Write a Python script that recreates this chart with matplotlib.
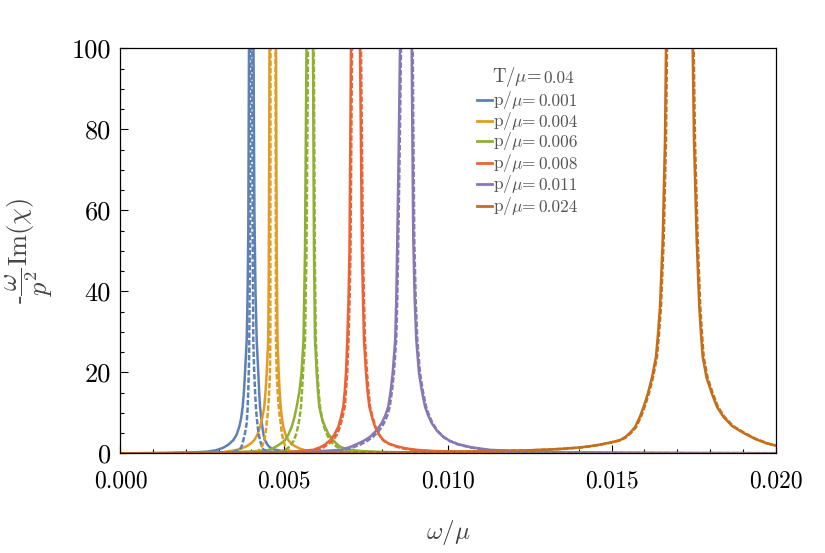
import matplotlib
matplotlib.use("Agg")
import matplotlib.pyplot as plt
from matplotlib.ticker import FixedLocator, MultipleLocator

# ---------------- data ----------------
T_label = "0.04"
p_labels = ["0.001", "0.004", "0.006", "0.008", "0.011", "0.024"]
colors = ["#5E81B5", "#E19C24", "#8FB032", "#EB6235", "#8778B3", "#C56E1A"]

# p/mu = 0.001  (solid / dashed)
w_s1 = [0.0, 1.5114e-3, 2.2748e-3, 2.6320e-3, 2.9160e-3, 3.1297e-3, 3.2977e-3, 3.4442e-3, 3.5419e-3, 3.6274e-3,
        3.6855e-3, 3.7313e-3, 3.7710e-3, 3.8015e-3, 3.8534e-3, 3.8778e-3, 3.9022e-3, 3.9236e-3, 3.9939e-3,
        4.0610e-3, 4.0885e-3, 4.1221e-3, 4.1587e-3, 4.2076e-3, 4.2351e-3, 4.2595e-3, 4.2961e-3, 4.3297e-3,
        4.3664e-3, 4.4122e-3, 4.4824e-3, 4.5648e-3, 4.6870e-3, 4.8702e-3, 5.2366e-3, 5.7862e-3, 7.0076e-3,
        8.5343e-3, 20.0e-3]
v_s1 = [0.05, 0.15, 0.3, 0.45, 0.8, 1.4, 2.2, 3.3, 4.6, 6.6,
        8.8, 11.6, 15.5, 19.9, 28, 38, 55, 100, 1000,
        100, 60, 40, 28, 19.9, 15, 11.6, 8.8, 6.6,
        4.7, 3.3, 2.2, 1.5, 1.0, 0.7, 0.45, 0.3, 0.17,
        0.1, 0.02]
w_d1 = [0.0, 2.4275e-3, 3.0381e-3, 3.3435e-3, 3.5267e-3, 3.6488e-3, 3.7099e-3, 3.7496e-3, 3.8015e-3, 3.8534e-3,
        3.8809e-3, 3.9022e-3, 3.9206e-3, 3.9328e-3, 3.9480e-3, 3.9633e-3, 3.9939e-3,
        4.0244e-3, 4.0397e-3, 4.0549e-3, 4.0793e-3, 4.1068e-3, 4.1374e-3, 4.1771e-3, 4.2137e-3, 4.2595e-3,
        4.3053e-3, 4.3603e-3, 4.4732e-3, 4.7175e-3, 5.1755e-3, 5.7862e-3, 20.0e-3]
v_d1 = [0.0, 0.05, 0.15, 0.3, 0.6, 1.0, 2.0, 3.3, 5.0, 7.5,
        11, 15.7, 21, 28, 45, 100, 1000,
        100, 45, 28, 21, 15.7, 11, 7.5, 5.0, 3.3,
        2.0, 1.0, 0.6, 0.3, 0.15, 0.05, 0.0]

# p/mu = 0.004
w_s2 = [0.0, 2.4275e-3, 3.0381e-3, 3.4351e-3, 3.6488e-3, 3.8534e-3, 3.9847e-3, 4.0854e-3, 4.1832e-3, 4.2595e-3,
        4.3297e-3, 4.3908e-3, 4.4305e-3, 4.4641e-3, 4.5099e-3, 4.5282e-3, 4.5496e-3, 4.6473e-3,
        4.7480e-3, 4.7694e-3, 4.7938e-3, 4.8305e-3, 4.8580e-3, 4.8915e-3, 4.9282e-3, 4.9709e-3, 5.0381e-3,
        5.1236e-3, 5.2213e-3, 5.3282e-3, 5.4809e-3, 5.6854e-3, 6.0915e-3, 6.7022e-3, 7.9236e-3, 10.0610e-3,
        20.0e-3]
v_s2 = [0.0, 0.1, 0.25, 0.7, 1.1, 1.8, 2.5, 3.3, 4.7, 6.6,
        8.8, 11.6, 15.5, 19.9, 28, 45, 100, 1000,
        100, 50, 28, 19.9, 15.5, 11.6, 8.8, 6.6, 4.7,
        3.3, 2.4, 1.8, 1.2, 0.7, 0.45, 0.3, 0.18, 0.1,
        0.03]
w_d2 = [0.0, 3.3435e-3, 3.8015e-3, 4.1068e-3, 4.1984e-3, 4.2595e-3, 4.3358e-3, 4.3908e-3, 4.4305e-3, 4.4641e-3,
        4.4916e-3, 4.5129e-3, 4.5404e-3, 4.5648e-3, 4.5740e-3, 4.5801e-3, 4.6564e-3,
        4.7328e-3, 4.7480e-3, 4.7694e-3, 4.7969e-3, 4.8305e-3, 4.8580e-3, 4.8915e-3, 4.9251e-3, 4.9709e-3,
        5.0228e-3, 5.0931e-3, 5.1755e-3, 5.3282e-3, 5.6335e-3, 6.0915e-3, 20.0e-3]
v_d2 = [0.0, 0.05, 0.2, 0.4, 0.7, 1.0, 2.0, 3.3, 5.0, 7.5,
        9.5, 11.6, 15.5, 19.9, 28, 100, 1000,
        100, 28, 19.9, 15.5, 11.6, 9.5, 7.5, 5.0, 3.3,
        2.0, 1.0, 0.7, 0.4, 0.2, 0.05, 0.0]

# p/mu = 0.006
w_s3 = [0.0, 2.4275e-3, 3.6488e-3, 4.1068e-3, 4.4641e-3, 4.6259e-3, 4.7694e-3, 4.9007e-3, 5.0228e-3, 5.1297e-3,
        5.2274e-3, 5.3068e-3, 5.3801e-3, 5.4656e-3, 5.5267e-3, 5.5877e-3, 5.6335e-3, 5.6793e-3, 5.7770e-3,
        5.8778e-3, 5.9083e-3, 5.9389e-3, 5.9908e-3, 6.0274e-3, 6.0702e-3, 6.1465e-3, 6.2442e-3, 6.3572e-3,
        6.4976e-3, 6.5953e-3, 6.7022e-3, 6.8549e-3, 7.0076e-3, 7.3740e-3, 7.9236e-3, 8.8396e-3, 10.0610e-3,
        20.0e-3]
v_s3 = [0.0, 0.1, 0.4, 0.55, 0.7, 1.2, 1.8, 2.5, 3.3, 4.7,
        6.6, 8.8, 11.6, 15.5, 19.9, 28, 50, 100, 1000,
        100, 50, 28, 19.9, 15.5, 11.6, 8.8, 6.6, 4.7,
        3.3, 2.4, 1.7, 1.2, 0.9, 0.6, 0.4, 0.25, 0.15,
        0.03]
w_d3 = [0.0, 3.9542e-3, 4.5648e-3, 4.8702e-3, 5.0534e-3, 5.1755e-3, 5.2366e-3, 5.2976e-3, 5.3587e-3, 5.4198e-3,
        5.4686e-3, 5.5114e-3, 5.5419e-3, 5.5725e-3, 5.6335e-3, 5.6793e-3, 5.7251e-3, 5.8137e-3,
        5.9022e-3, 5.9328e-3, 5.9633e-3, 6.0152e-3, 6.0488e-3, 6.0915e-3, 6.1465e-3, 6.2137e-3, 6.3053e-3,
        6.3969e-3, 6.4885e-3, 6.5801e-3, 6.7633e-3, 7.0076e-3, 7.4656e-3, 8.5343e-3, 20.0e-3]
v_d3 = [0.0, 0.05, 0.2, 0.4, 1.0, 1.8, 2.5, 3.3, 4.7, 6.6,
        8.8, 11.6, 15.5, 19.9, 28, 50, 100, 1000,
        100, 50, 28, 19.9, 15.5, 11.6, 8.8, 6.6, 4.7,
        3.3, 2.4, 1.8, 1.0, 0.4, 0.2, 0.05, 0.0]

# p/mu = 0.008
w_s4 = [0.0, 2.4275e-3, 4.2595e-3, 5.1755e-3, 5.4809e-3, 5.8778e-3, 6.0915e-3, 6.2442e-3, 6.3969e-3, 6.5343e-3,
        6.6503e-3, 6.7327e-3, 6.8030e-3, 6.8488e-3, 6.8854e-3, 6.9251e-3, 6.9618e-3, 6.9923e-3, 7.0381e-3,
        7.1755e-3,
        7.3129e-3, 7.3740e-3, 7.4045e-3, 7.4350e-3, 7.4961e-3, 7.5419e-3, 7.5969e-3, 7.6793e-3, 7.7709e-3,
        7.8930e-3, 8.0243e-3, 8.1984e-3, 8.4335e-3, 8.6869e-3, 9.0442e-3, 9.4503e-3, 10.0610e-3, 11.5877e-3,
        13.1144e-3, 16.1678e-3, 20.0e-3]
v_s4 = [0.0, 0.1, 0.3, 0.45, 0.6, 0.9, 1.5, 2.2, 3.3, 4.7,
        6.6, 9.0, 11.6, 15.5, 19.9, 28, 38, 50, 100,
        1000,
        100, 50, 38, 28, 19.9, 15.5, 11.6, 9.0, 6.6,
        4.7, 3.3, 2.4, 1.8, 1.3, 0.9, 0.65, 0.5, 0.32,
        0.2, 0.12, 0.06]
w_d4 = [0.0, 5.1755e-3, 5.6335e-3, 6.0305e-3, 6.1526e-3, 6.2442e-3, 6.3663e-3, 6.4885e-3, 6.6106e-3, 6.7022e-3,
        6.7785e-3, 6.8488e-3, 6.8854e-3, 6.9221e-3, 6.9618e-3, 6.9953e-3, 7.0228e-3, 7.0686e-3, 7.2060e-3,
        7.3434e-3, 7.4045e-3, 7.4350e-3, 7.4656e-3, 7.5266e-3, 7.5724e-3, 7.6182e-3, 7.6946e-3, 7.7862e-3,
        7.8930e-3, 8.0152e-3, 8.1678e-3, 8.3816e-3, 8.5953e-3, 8.9007e-3, 9.4503e-3, 10.3663e-3, 12.1983e-3,
        20.0e-3]
v_d4 = [0.0, 0.3, 0.6, 0.9, 1.3, 1.8, 2.5, 3.3, 4.7, 6.6,
        9.0, 11.6, 15.5, 19.9, 28, 38, 50, 100, 1000,
        100, 50, 38, 28, 19.9, 15.5, 11.6, 9.0, 6.6,
        4.7, 3.3, 2.5, 1.8, 1.3, 0.9, 0.6, 0.3, 0.1,
        0.0]

# p/mu = 0.011
w_s5 = [0.0, 2.4275e-3, 3.9542e-3, 4.8702e-3, 5.7862e-3, 6.3358e-3, 6.7022e-3, 6.9770e-3, 7.2121e-3, 7.4198e-3,
        7.6182e-3, 7.8014e-3, 7.9755e-3, 8.0915e-3, 8.1770e-3, 8.2503e-3, 8.3114e-3, 8.3877e-3, 8.4213e-3,
        8.4518e-3, 8.4946e-3, 8.5343e-3, 8.7022e-3,
        8.8915e-3, 8.9159e-3, 8.9404e-3, 8.9831e-3, 9.0320e-3, 9.1144e-3, 9.1999e-3, 9.2976e-3, 9.3892e-3,
        9.5022e-3, 9.6640e-3, 9.8564e-3, 10.0610e-3, 10.3144e-3, 10.7327e-3, 11.2823e-3, 11.8319e-3,
        12.5037e-3, 13.7250e-3, 15.2517e-3, 17.6945e-3, 20.0e-3]
v_s5 = [0.03, 0.1, 0.2, 0.3, 0.5, 0.7, 0.9, 1.5, 2.3, 3.1,
        4.1, 5.6, 7.5, 9.5, 11.6, 15.5, 19.9, 28, 38,
        52.7, 75, 100, 1000,
        100, 75, 52.7, 38, 28, 19.9, 15.5, 11.6, 9.5,
        7.5, 5.6, 4.1, 3.1, 2.3, 1.5, 0.9, 0.7,
        0.5, 0.3, 0.2, 0.12, 0.08]
w_d5 = [0.0, 4.8702e-3, 5.7862e-3, 6.3969e-3, 6.8549e-3, 7.0992e-3, 7.3434e-3, 7.5266e-3, 7.7098e-3, 7.8930e-3,
        8.0457e-3, 8.1526e-3, 8.2228e-3, 8.2900e-3, 8.3480e-3, 8.4182e-3, 8.4518e-3, 8.4823e-3, 8.5251e-3,
        8.5648e-3, 8.7419e-3,
        8.9220e-3, 8.9465e-3, 8.9709e-3, 9.0136e-3, 9.0625e-3, 9.1449e-3, 9.2304e-3, 9.3281e-3, 9.4197e-3,
        9.5266e-3, 9.6793e-3, 9.8625e-3, 10.0457e-3, 10.2747e-3, 10.6716e-3, 11.1296e-3, 11.5877e-3,
        12.8090e-3, 14.6411e-3, 20.0e-3]
v_d5 = [0.0, 0.1, 0.3, 0.6, 0.9, 1.5, 2.3, 3.1, 4.1, 5.6,
        7.5, 9.5, 11.6, 15.5, 19.9, 28, 38, 52.7, 75,
        100, 1000,
        100, 75, 52.7, 38, 28, 19.9, 15.5, 11.6, 9.5,
        7.5, 5.6, 4.1, 3.1, 2.3, 1.5, 0.9, 0.6,
        0.3, 0.1, 0.0]

# p/mu = 0.024
w_s6 = [0.0, 3.9542e-3, 8.5343e-3, 10.0610e-3, 11.5877e-3, 12.5037e-3, 13.1144e-3, 13.5724e-3, 14.0304e-3,
        14.3357e-3, 14.6411e-3, 14.9464e-3, 15.2517e-3, 15.4044e-3, 15.5571e-3, 15.7097e-3, 15.8624e-3,
        15.9845e-3, 16.1067e-3, 16.2288e-3, 16.3510e-3, 16.4120e-3, 16.4731e-3, 16.5555e-3, 16.6258e-3,
        16.6563e-3, 17.0624e-3,
        17.4716e-3, 17.5112e-3, 17.5937e-3, 17.6731e-3, 17.7250e-3, 17.7769e-3, 17.8929e-3, 18.0517e-3,
        18.2135e-3, 18.4059e-3, 18.6715e-3, 19.0166e-3, 19.3738e-3, 19.7311e-3, 20.0e-3]
v_s6 = [0.05, 0.12, 0.3, 0.4, 0.6, 0.8, 1.0, 1.2, 1.5,
        1.8, 2.2, 2.7, 3.3, 4.0, 5.1, 6.5, 9.1,
        11.8, 14.9, 18.8, 23.9, 29.5, 36.2, 52.7, 77.4,
        100, 1000,
        100, 77.4, 52.7, 36.2, 29.5, 23.9, 18.8, 14.9,
        11.5, 9.1, 6.8, 5.1, 3.6, 2.5, 2.0]
w_d6 = [0.0, 3.9842e-3, 8.5643e-3, 10.0910e-3, 11.6177e-3, 12.5337e-3, 13.1444e-3, 13.6024e-3, 14.0604e-3,
        14.3657e-3, 14.6711e-3, 14.9764e-3, 15.2817e-3, 15.4344e-3, 15.5871e-3, 15.7397e-3, 15.8924e-3,
        16.0145e-3, 16.1367e-3, 16.2588e-3, 16.3810e-3, 16.4420e-3, 16.5031e-3, 16.5855e-3, 16.6558e-3,
        16.6863e-3, 17.0924e-3,
        17.5016e-3, 17.5412e-3, 17.6237e-3, 17.7031e-3, 17.7550e-3, 17.8069e-3, 17.9229e-3, 18.0817e-3,
        18.2435e-3, 18.4359e-3, 18.7015e-3, 19.0466e-3, 19.4038e-3, 19.7611e-3, 20.0e-3]
v_d6 = [0.05, 0.12, 0.3, 0.4, 0.6, 0.8, 1.0, 1.2, 1.5,
        1.8, 2.2, 2.7, 3.3, 4.0, 5.1, 6.5, 9.1,
        11.8, 14.9, 18.8, 23.9, 29.5, 36.2, 52.7, 77.4,
        100, 1000,
        100, 77.4, 52.7, 36.2, 29.5, 23.9, 18.8, 14.9,
        11.5, 9.1, 6.8, 5.1, 3.6, 2.5, 1.95]

solid_w = [w_s1, w_s2, w_s3, w_s4, w_s5, w_s6]
solid_v = [v_s1, v_s2, v_s3, v_s4, v_s5, v_s6]
dash_w = [w_d1, w_d2, w_d3, w_d4, w_d5, w_d6]
dash_v = [v_d1, v_d2, v_d3, v_d4, v_d5, v_d6]

xticks = [0.0, 0.005, 0.010, 0.015, 0.020]
xtick_labels = ["0.000", "0.005", "0.010", "0.015", "0.020"]
yticks = [0, 20, 40, 60, 80, 100]
ytick_labels = ["0", "20", "40", "60", "80", "100"]

# ---------------- style ----------------
plt.rcParams["font.family"] = "serif"
plt.rcParams["font.serif"] = ["cmr10", "DejaVu Serif"]
plt.rcParams["mathtext.fontset"] = "cm"
plt.rcParams["axes.formatter.use_mathtext"] = True
plt.rcParams["axes.unicode_minus"] = False

fig = plt.figure(figsize=(8.25, 5.53), dpi=100)
ax = fig.add_axes([0.14606, 0.17993, 0.79394, 0.73237])

lw = 1.8
for w, v, c in zip(solid_w, solid_v, colors):
    ax.plot(w, v, color=c, lw=lw, solid_joinstyle="round")
for w, v, c in zip(dash_w, dash_v, colors):
    ax.plot(w, v, color=c, lw=lw, dashes=(2.2, 0.8))

ax.set_xlim(0, 0.020)
ax.set_ylim(0, 100)

ax.xaxis.set_major_locator(FixedLocator(xticks))
ax.set_xticklabels(xtick_labels)
ax.xaxis.set_minor_locator(MultipleLocator(0.001))
ax.yaxis.set_major_locator(FixedLocator(yticks))
ax.set_yticklabels(ytick_labels)
ax.yaxis.set_minor_locator(MultipleLocator(5))

ax.tick_params(which="both", direction="in", top=False, right=False, color="black", width=0.8)
ax.tick_params(which="major", length=6)
ax.tick_params(which="minor", length=3)
ax.tick_params(axis="x", which="major", labelsize=17, pad=12)
ax.tick_params(axis="y", which="major", labelsize=19, pad=7)
for s in ax.spines.values():
    s.set_linewidth(0.9)
    s.set_color("black")

label_color = "#444444"
ax.set_xlabel(r"$\omega/\mu$", fontsize=18, color=label_color)
ax.xaxis.set_label_coords(0.5, -0.16)
ax.set_ylabel(r"-$\dfrac{\omega}{p^2}\mathrm{Im}(\chi)$", fontsize=19, color=label_color)
ax.yaxis.set_label_coords(-0.1, 0.5)

# ---------------- legend ----------------
leg_color = "#555555"
t = ax.text(0.5667, 0.9304, r"T/$\mu$=", transform=ax.transAxes, fontsize=13.5,
            color=leg_color, ha="left", va="center")
ax.annotate(T_label, xy=(1, 0.22), xycoords=t, xytext=(1.5, 0), textcoords="offset points",
            fontsize=12.5, color=leg_color, ha="left", va="baseline")
row_y = [0.8728, 0.8210, 0.7716, 0.7173, 0.6654, 0.6123]
for lab, c, y in zip(p_labels, colors, row_y):
    ax.plot([0.5443, 0.5672], [y, y], transform=ax.transAxes, color=c, lw=2.0, clip_on=False)
    tt = ax.text(0.5692, y, r"p/$\mu$=", transform=ax.transAxes, fontsize=12.5,
                 color=leg_color, ha="left", va="center")
    ax.annotate(lab, xy=(1, 0.22), xycoords=tt, xytext=(1.5, 0), textcoords="offset points",
                fontsize=12.5, color=leg_color, ha="left", va="baseline")

fig.savefig("out.png", dpi=100)
